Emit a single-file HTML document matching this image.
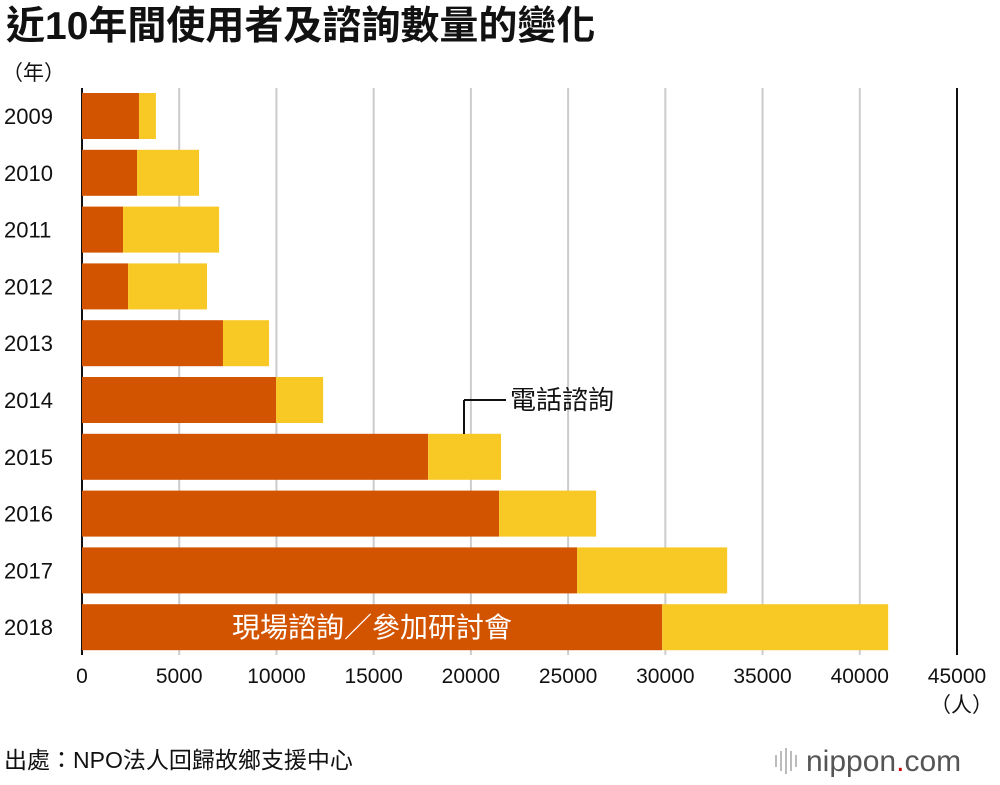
<!DOCTYPE html>
<html><head><meta charset="utf-8"><style>
body{margin:0;background:#fff;font-family:"Liberation Sans","Noto Sans CJK TC",sans-serif;}
svg text{font-family:"Liberation Sans","Noto Sans CJK TC",sans-serif;}
</style></head><body>
<svg id="chart" width="1000" height="780">
<text x="6" y="39" font-size="39" font-weight="bold" fill="#111">近10年間使用者及諮詢數量的變化</text>
<text x="2" y="80" font-size="21" fill="#111">（年）</text>
<g id="grid"></g><g id="bars"></g><g id="labels"></g>
<text x="930" y="712" font-size="21" fill="#111">（人）</text>
<text x="4" y="768" font-size="23" fill="#111">出處：NPO法人回歸故鄉支援中心</text>
<g>
<line x1="776" y1="755" x2="776" y2="767" stroke="#bbb" stroke-width="2"/>
<line x1="781" y1="751" x2="781" y2="771" stroke="#bbb" stroke-width="2"/>
<line x1="786" y1="748" x2="786" y2="774" stroke="#bbb" stroke-width="2"/>
<line x1="791" y1="751" x2="791" y2="771" stroke="#bbb" stroke-width="2"/>
<line x1="796" y1="755" x2="796" y2="767" stroke="#bbb" stroke-width="2"/>
<text x="806" y="771" font-size="30" fill="#555">nippon<tspan fill="#c00">.</tspan>com</text>
</g>
<line x1="464" y1="434" x2="464" y2="400" stroke="#111" stroke-width="2"/>
<line x1="464" y1="400" x2="506" y2="400" stroke="#111" stroke-width="2"/>
<text x="510" y="409" font-size="26" fill="#111">電話諮詢</text>
<text x="232" y="637" font-size="28" fill="#fff">現場諮詢／參加研討會</text>
</svg>
<script>
const years=["2009","2010","2011","2012","2013","2014","2015","2016","2017","2018"];
const onsite=[2930,2830,2110,2370,7250,9980,17800,21450,25460,29840];
const phone=[870,3190,4940,4060,2370,2420,3750,4990,7720,11620];
const ticks=[0,5000,10000,15000,20000,25000,30000,35000,40000,45000];
const NS="http://www.w3.org/2000/svg";
const x=v=>82+v*(875/45000);
const yc=i=>116+i*56.8;
function mk(t,a,p){const e=document.createElementNS(NS,t);for(const k in a)e.setAttribute(k,a[k]);p.appendChild(e);return e;}
const grid=document.getElementById('grid'),bars=document.getElementById('bars'),labels=document.getElementById('labels');
ticks.forEach((t,i)=>{
 const last=i===ticks.length-1;
 const l=mk('line',{x1:x(t),x2:x(t),y1:88,y2:655,stroke:(i===0||last)?'#111':'#ccc','stroke-width':2},grid);
 
 
 const tx=mk('text',{x:x(t),y:683,'font-size':21,'text-anchor':'middle',fill:'#111'},labels);
 tx.textContent=t;
 
 
});
years.forEach((yr,i)=>{
 const a=mk('rect',{x:x(0),y:yc(i)-23,width:x(onsite[i])-x(0),height:46,fill:'#d35400'},bars);
 
 
 const b=mk('rect',{x:x(onsite[i]),y:yc(i)-23,width:x(onsite[i]+phone[i])-x(onsite[i]),height:46,fill:'#f8c925'},bars);
 
 
 const t=mk('text',{x:4,y:yc(i)+8,'font-size':22,fill:'#111'},labels);
 t.textContent=yr;
 
 
});
</script>
</body></html>
